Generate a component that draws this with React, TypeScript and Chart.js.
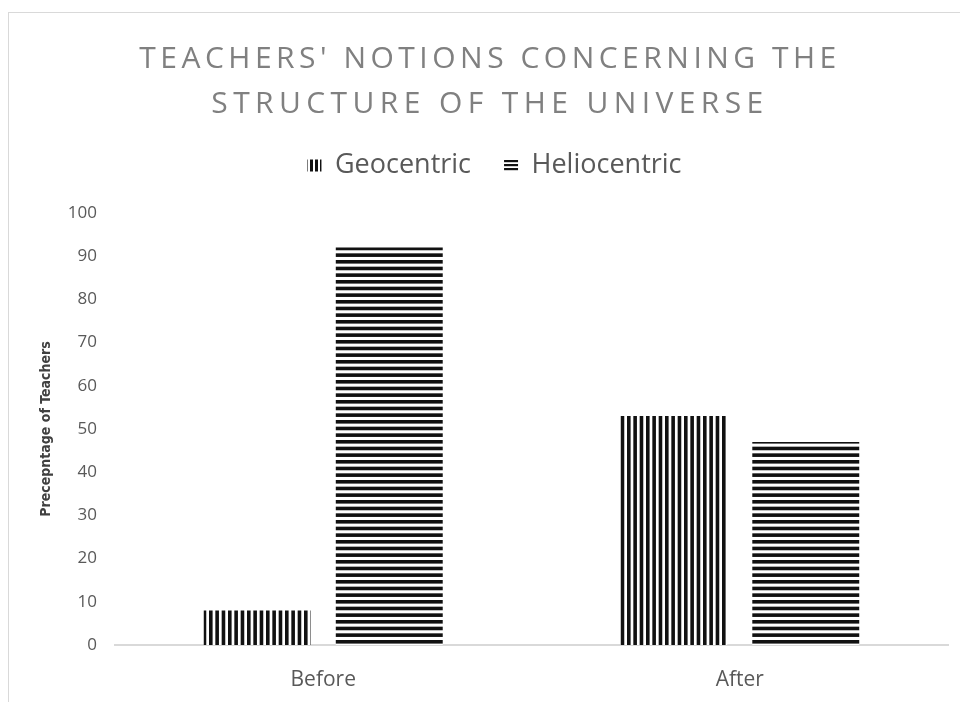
import { useEffect, useRef } from 'react';
import { Chart, registerables } from 'chart.js';

Chart.register(...registerables);

const categories = ['Before', 'After'];
const seriesNames = ['Geocentric', 'Heliocentric'];
const geocentric = [8, 53];
const heliocentric = [92, 47];
const yMin = 0;
const yMax = 100;
const yStep = 10;
const titleLines = ["TEACHERS' NOTIONS CONCERNING THE", 'STRUCTURE OF THE UNIVERSE'];
const titleSpacing = ['4.5px', '5.4px'];
const yAxisTitle = 'Precepntage of Teachers';

const INK = '#111111';
const TEXT = '#595959';
const TITLE = '#808080';
const AXIS = '#d9d9d9';

function stripePattern(dir: 'v' | 'h', tile: number, count: number, ink: number) {
  const c = document.createElement('canvas');
  c.width = dir === 'v' ? tile : 4;
  c.height = dir === 'h' ? tile : 4;
  const g = c.getContext('2d')!;
  g.fillStyle = '#ffffff';
  g.fillRect(0, 0, c.width, c.height);
  g.fillStyle = INK;
  const period = tile / count;
  for (let k = 0; k < count; k++) {
    const p = k * period;
    if (dir === 'v') g.fillRect(p, 0, ink, c.height);
    else g.fillRect(0, p, c.width, ink);
  }
  return g.createPattern(c, 'repeat')!;
}

const spacedTitle = {
  id: 'spacedTitle',
  afterDraw(chart: any) {
    const ctx = chart.ctx as CanvasRenderingContext2D;
    ctx.save();
    ctx.font = '30px "Open Sans"';
    ctx.fillStyle = TITLE;
    ctx.textAlign = 'center';
    ctx.textBaseline = 'middle';
    const cx = 490;
    titleLines.forEach((line, i) => {
      (ctx as any).letterSpacing = titleSpacing[i];
      ctx.fillText(line, cx, 59 + i * 45);
    });
    ctx.restore();
  },
};

export default function App() {
  const ref = useRef<HTMLCanvasElement | null>(null);

  useEffect(() => {
    const canvas = ref.current;
    if (!canvas) return;
    Chart.defaults.font.family = '"Open Sans"';

    const geoBar = stripePattern('v', 19, 3, 3.6);
    const helBar = stripePattern('h', 20, 3, 3.6);
    const geoLegend = stripePattern('v', 5, 1, 3);
    const helLegend = stripePattern('h', 4, 1, 2.2);
    const legendFills = [geoLegend, helLegend];

    const chart = new Chart(canvas, {
      type: 'bar',
      data: {
        labels: categories,
        datasets: [
          { label: seriesNames[0], data: geocentric, backgroundColor: geoBar, borderWidth: 0, xAxisID: 'x' },
          { label: seriesNames[1], data: heliocentric, backgroundColor: helBar, borderWidth: 0, xAxisID: 'x' },
        ],
      },
      options: {
        responsive: false,
        animation: false,
        categoryPercentage: 0.634,
        barPercentage: 0.81,
        layout: { padding: { top: 119, left: 41, right: 84, bottom: 0 } },
        plugins: {
          title: { display: false },
          tooltip: { enabled: false },
          legend: {
            display: true,
            position: 'top',
            labels: {
              boxWidth: 14,
              boxHeight: 12,
              padding: 33,
              color: TEXT,
              font: { size: 27 },
              generateLabels(chart: any) {
                const items = Chart.defaults.plugins.legend.labels.generateLabels(chart);
                return items.map((it: any, i: number) => ({
                  ...it,
                  fillStyle: legendFills[i],
                  strokeStyle: 'rgba(0,0,0,0)',
                  lineWidth: 0,
                }));
              },
            },
          },
        },
        scales: {
          x: {
            grid: { display: false, drawTicks: false },
            border: { display: true, color: AXIS, width: 2 },
            ticks: { color: TEXT, font: { size: 21 }, padding: 22 },
            afterFit(scale: any) {
              scale.height = 57;
            },
          },
          spacer: {
            type: 'category',
            axis: 'x',
            position: 'top',
            grid: { display: false, drawTicks: false },
            border: { display: false },
            ticks: { display: false },
            afterFit(scale: any) {
              scale.height = 24;
            },
          },
          y: {
            min: yMin,
            max: yMax,
            grid: { display: false, drawTicks: false },
            border: { display: false },
            ticks: { stepSize: yStep, color: TEXT, font: { size: 17 }, padding: 18 },
            title: {
              display: true,
              text: yAxisTitle,
              color: '#404040',
              font: { family: '"Liberation Sans Narrow", "DejaVu Sans Condensed", "Liberation Sans"', size: 14, weight: 'bold' },
              padding: { top: -3, bottom: 0 },
            },
            afterFit(scale: any) {
              scale.width = 74;
            },
          },
        },
      },
      plugins: [spacedTitle],
    } as any);

    return () => chart.destroy();
  }, []);

  return (
    <div style={{ position: 'fixed', left: 0, top: 0, width: 960, height: 702, overflow: 'hidden', background: '#ffffff' }}>
      <div
        style={{
          position: 'absolute',
          left: 8,
          top: 12,
          width: 952,
          height: 690,
          borderTop: `1px solid ${AXIS}`,
          borderLeft: `1px solid ${AXIS}`,
          boxSizing: 'border-box',
        }}
      />
      <canvas ref={ref} width={1032} height={702} style={{ position: 'absolute', left: 0, top: 0, width: 1032, height: 702 }} />
    </div>
  );
}
